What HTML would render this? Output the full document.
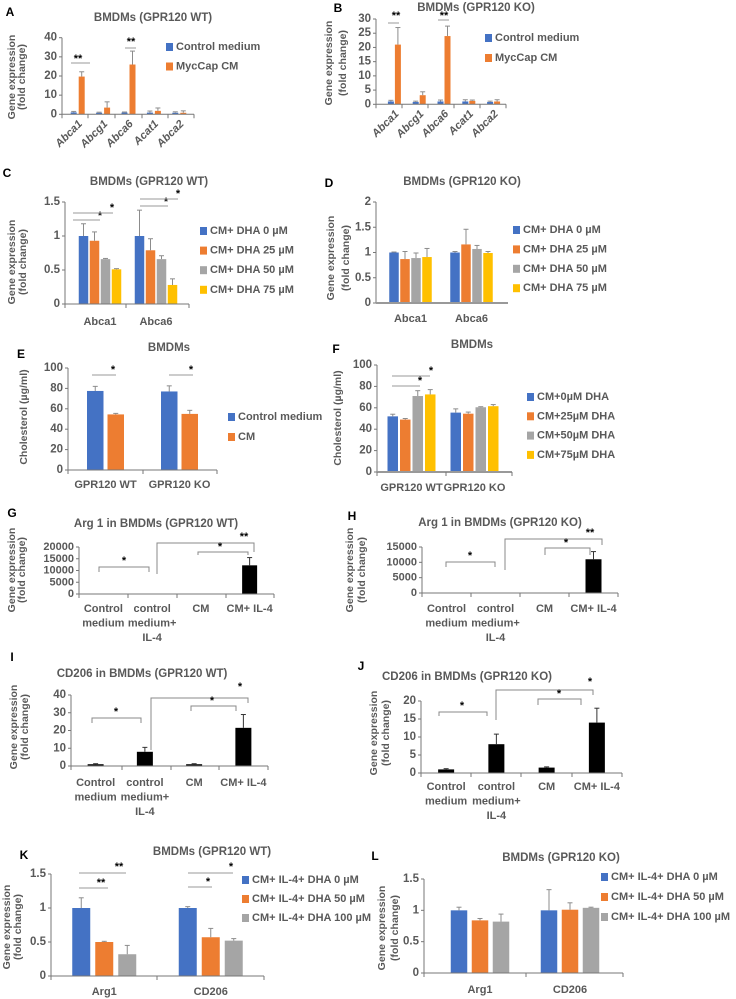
<!DOCTYPE html>
<html><head><meta charset="utf-8"><style>
html,body{margin:0;padding:0;background:#fff;}
svg{display:block;font-family:"Liberation Sans",sans-serif;}
</style></head><body>
<svg id="fig" width="736" height="999" viewBox="0 0 736 999" xmlns="http://www.w3.org/2000/svg"></svg>
<script>
// ---------- DATA ----------
const genesAB = ["Abca1","Abcg1","Abca6","Acat1","Abca2"];
const aCtrl = [1,0.8,0.9,0.9,0.8];
const aCtrlErr = [0.5,0.3,0.3,0.8,0.5];
const aMyc = [19.7,3.5,26,1.8,0.8];
const aMycErr = [2.5,3,7,1.5,1];
const bCtrl = [1,0.8,1,1,0.8];
const bCtrlErr = [0.4,0.3,0.5,0.6,0.3];
const bMyc = [21,3.2,24,1.2,1];
const bMycErr = [6,1.2,3.5,0.3,0.6];
const genesCD = ["Abca1","Abca6"];
const c0 = [1,1], c0e = [0.18,0.38];
const c25 = [0.93,0.79], c25e = [0.13,0.17];
const c50 = [0.66,0.66], c50e = [0.01,0.05];
const c75 = [0.51,0.28], c75e = [0.01,0.09];
const d0 = [1,1], d0e = [0.01,0.02];
const d25 = [0.87,1.16], d25e = [0.15,0.3];
const d50 = [0.89,1.07], d50e = [0.1,0.07];
const d75 = [0.91,0.99], d75e = [0.17,0.03];
const groupsEF = ["GPR120 WT","GPR120 KO"];
const eCtrl = [77.5,77], eCtrlErr = [4.5,5.5];
const eCM = [54.5,55], eCMErr = [1,3.5];
const f0 = [52,55.5], f0e = [2,3.5];
const f25 = [49,54.5], f25e = [1,1.5];
const f50 = [71,60.5], f50e = [5,0.5];
const f75 = [72.5,61.5], f75e = [4.5,1.5];
const catsGJ = ["Control\nmedium","control\nmedium+\nIL-4","CM","CM+  IL-4"];
const gVals = [1,150,60,12200], gErr = [0,0,0,3300];
const hVals = [1,100,50,11000], hErr = [0,0,0,2500];
const iVals = [1,8,1,21.5], iErr = [0.3,2.5,0.3,7.5];
const jVals = [1,8,1.5,14], jErr = [0.2,2.8,0.2,4];
const genesKL = ["Arg1","CD206"];
const k0 = [1,1], k0e = [0.15,0.02];
const k50 = [0.5,0.57], k50e = [0.01,0.13];
const k100 = [0.32,0.52], k100e = [0.13,0.03];
const l0 = [1,1], l0e = [0.05,0.33];
const l50 = [0.84,1.01], l50e = [0.03,0.11];
const l100 = [0.82,1.04], l100e = [0.12,0.01];
const ticksA = [0,10,20,30,40], ticksB = [0,5,10,15,20,25,30];
const ticksC = [0,0.5,1,1.5], ticksD = [0,0.5,1,1.5,2];
const ticksEF = [0,20,40,60,80,100];
const ticksG = [0,5000,10000,15000,20000], ticksH = [0,5000,10000,15000];
const ticksI = [0,10,20,30,40], ticksJ = [0,5,10,15,20], ticksKL = [0,0.5,1,1.5];

const BLUE="#4472C4", ORANGE="#ED7D31", GRAY="#A5A5A5", YEL="#FFC000", BLACK="#000";
const TXT="#595959";
const NS="http://www.w3.org/2000/svg";
const svg=document.getElementById('fig');
function el(tag,attrs,parent){const e=document.createElementNS(NS,tag);for(const k in attrs)e.setAttribute(k,attrs[k]);(parent||svg).appendChild(e);return e;}
function txt(x,y,s,o,parent){o=o||{};const e=el('text',{x:x,y:y,'font-size':o.size||10,fill:o.fill||TXT,'text-anchor':o.anchor||'middle','dominant-baseline':'central'},parent);
 if(o.weight)e.setAttribute('font-weight',o.weight); if(o.italic)e.setAttribute('font-style','italic'); if(o.rot)e.setAttribute('transform',o.rot); e.textContent=s; return e;}

function chart(o){
 const g=el('g',{});
 
 
 const yv=v=>o.y0+(o.yTop-o.y0)*v/o.ymax;
 const n=o.cats.length, gw=(o.x1-o.x0)/n;
 const ax0=o.ax0!==undefined?o.ax0:o.x0, ax1=o.ax1!==undefined?o.ax1:o.x1;
 const L=txt(o.letter[0],o.letter[1],o.letter[2],{size:12,weight:'bold',fill:'#000'},g);
 
 
 const T=txt(o.title[0],o.title[1],o.title[2],{size:11.5,weight:'bold',fill:TXT},g);
 
 
 const ya=el('line',{x1:ax0,x2:ax0,y1:yv(o.ticks[o.ticks.length-1]),y2:o.y0,stroke:'#777','stroke-width':1},g);
 
 
 o.ticks.forEach(t=>{
  el('line',{x1:ax0-3,x2:ax0,y1:yv(t),y2:yv(t),stroke:'#777'},g);
  const tl=txt(ax0-5,yv(t),String(t),{size:o.tickSize||11.5,weight:'bold',anchor:'end',fill:TXT},g);
  
  
 });
 o.ytitle.forEach((s,i)=>{
  const yt=txt(o.ytx[i],o.yty,s,{size:10.5,weight:'bold',fill:TXT,rot:`rotate(-90 ${o.ytx[i]} ${o.yty})`},g);
  
  
 });
 const ns=o.series.length, bw=o.bw, gap=o.gap, tot=ns*bw+(ns-1)*gap;
 o.series.forEach((s,si)=>{
  s.vals.forEach((v,ci)=>{
   const cx=o.x0+(ci+0.5)*gw, bx=cx-tot/2+si*(bw+gap);
   const top=yv(v);
   const r=el('rect',{x:bx,y:Math.min(top,o.y0),width:bw,height:Math.abs(o.y0-top),fill:s.color},g);
   
   
   const e=s.errs[ci];
   if(e>0){const ec=o.errColor||'#8c8c8c', mx=bx+bw/2, ye=yv(v+e);
    const eb=el('line',{x1:mx,x2:mx,y1:top,y2:ye,stroke:ec,'stroke-width':1},g);
    
    
    el('line',{x1:mx-2.5,x2:mx+2.5,y1:ye,y2:ye,stroke:ec,'stroke-width':1},g);}
  });
 });
 const xa=el('line',{x1:ax0,x2:ax1,y1:o.y0,y2:o.y0,stroke:o.xaxColor||'#777','stroke-width':o.xaxW||1},g);
 
 
 (o.xticks||[]).forEach(x=>el('line',{x1:x,x2:x,y1:o.y0,y2:o.y0+4,stroke:'#777'},g));
 o.cats.forEach((c,ci)=>{
  const cx=o.x0+(ci+0.5)*gw;
  if(o.rotate){
   const ty=o.y0+8;
   const cl=txt(cx+3,ty,c,{size:11,italic:true,weight:'bold',fill:TXT,anchor:'end',rot:`rotate(-45 ${cx+3} ${ty})`},g);
   
   
  } else {
   c.split('\n').forEach((ln,li)=>{
    const cl=txt(cx,o.catY+li*14.5,ln,{size:11,weight:'bold',fill:TXT},g);
    
    
   });
  }
 });
 (o.legend||[]).forEach((lg,i)=>{
  const ly=o.leg.y+i*o.leg.dy;
  const sw=el('rect',{x:o.leg.x,y:ly-4,width:7,height:8,fill:o.series[i].color},g);
  
  
  const lt=txt(o.leg.x+10,ly,lg,{size:11,weight:'bold',anchor:'start',fill:TXT},g);
  
  
 });
 (o.sig||[]).forEach(s=>{
  const p=el('polyline',{points:s.pts,fill:'none',stroke:o.sigColor||'#999','stroke-width':1},g);
  
  
  const st=txt(s.sx,s.sy,s.s,{size:11,fill:'#000',weight:'bold'},g);
  
  
 });
}

const exprTitle=["Gene expression","(fold change)"];
chart({name:'chart-a',letter:[10,12,'A'],title:[153,18,'BMDMs (GPR120 WT)'],x0:65,x1:192,ax0:62,ax1:194,y0:114.3,yTop:37.7,ymax:40,ticks:ticksA,
 ytitle:exprTitle,ytx:[12,22],yty:77,cats:genesAB,rotate:true,bw:6,gap:2,xticks:[62,88,115,142,168,194],
 series:[{key:'control',vals:aCtrl,errs:aCtrlErr,color:BLUE},{key:'myccap',vals:aMyc,errs:aMycErr,color:ORANGE}],
 legend:['Control medium','MycCap CM'],leg:{x:166,y:47,dy:19.5},
 sig:[{pts:'71,63 90,63',sx:78,sy:59,s:'**'},{pts:'125,48 136,48',sx:131,sy:42,s:'**'}]});
chart({name:'chart-b',letter:[338,8,'B'],title:[476,8,'BMDMs (GPR120 KO)'],x0:382,x1:506,ax0:376,ax1:506,y0:104.3,yTop:19,ymax:30,ticks:ticksB,
 ytitle:exprTitle,ytx:[329,343],yty:63,cats:genesAB,rotate:true,bw:6,gap:1,xticks:[376,402,428,454,480,506],
 series:[{key:'control',vals:bCtrl,errs:bCtrlErr,color:BLUE},{key:'myccap',vals:bMyc,errs:bMycErr,color:ORANGE}],
 legend:['Control medium','MycCap CM'],leg:{x:485,y:38,dy:20},
 sig:[{pts:'388,23 399,23',sx:396,sy:16,s:'**'},{pts:'438,20 449,20',sx:444,sy:16,s:'**'}]});
chart({name:'chart-c',letter:[7,173,'C'],title:[149,182,'BMDMs (GPR120 WT)'],x0:72,x1:184,ax0:65,ax1:189,y0:304,yTop:202,ymax:1.5,ticks:ticksC,
 ytitle:exprTitle,ytx:[12,23],yty:262,cats:genesCD,catY:322,bw:9.5,gap:1.5,xticks:[65,126,189],
 series:[{key:'dha0',vals:c0,errs:c0e,color:BLUE},{key:'dha25',vals:c25,errs:c25e,color:ORANGE},{key:'dha50',vals:c50,errs:c50e,color:GRAY},{key:'dha75',vals:c75,errs:c75e,color:YEL}],
 legend:['CM+ DHA 0 µM','CM+ DHA 25 µM','CM+ DHA 50 µM','CM+ DHA 75 µM'],leg:{x:200,y:231,dy:19.6},
 sig:[{pts:'73,220 100,220',sx:100,sy:216,s:'*'},{pts:'73,213 113,213',sx:112,sy:208,s:'*'},{pts:'140,206 168,206',sx:166,sy:202,s:'*'},{pts:'140,199 178,199',sx:178,sy:194,s:'*'}]});
chart({name:'chart-d',letter:[329,183,'D'],title:[462,182,'BMDMs (GPR120 KO)'],x0:380,x1:502,ax0:376,ax1:508,y0:303,yTop:202,ymax:2,ticks:ticksD,
 ytitle:exprTitle,ytx:[331,346],yty:258,cats:genesCD,catY:319,bw:9.5,gap:1.5,xaxColor:'#999',xaxW:2,
 series:[{key:'dha0',vals:d0,errs:d0e,color:BLUE},{key:'dha25',vals:d25,errs:d25e,color:ORANGE},{key:'dha50',vals:d50,errs:d50e,color:GRAY},{key:'dha75',vals:d75,errs:d75e,color:YEL}],
 legend:['CM+ DHA 0 µM','CM+ DHA 25 µM','CM+ DHA 50 µM','CM+ DHA 75 µM'],leg:{x:513,y:230,dy:19.4}});
chart({name:'chart-e',letter:[21,354,'E'],title:[169,348,'BMDMs'],x0:68.5,x1:216.5,ax0:68,ax1:217,y0:470,yTop:368,ymax:100,ticks:ticksEF,
 ytitle:['Cholesterol (µg/ml)'],ytx:[24],yty:417,cats:groupsEF,catY:485,bw:16.5,gap:4,xticks:[68,143,217],
 series:[{key:'control',vals:eCtrl,errs:eCtrlErr,color:BLUE},{key:'cm',vals:eCM,errs:eCMErr,color:ORANGE}],
 legend:['Control medium','CM'],leg:{x:228,y:417,dy:20},
 sig:[{pts:'92,375 116,375',sx:113,sy:370,s:'*'},{pts:'169,375 193,375',sx:191,sy:370,s:'*'}]});
chart({name:'chart-f',letter:[336,349,'F'],title:[472,345,'BMDMs'],x0:380,x1:506,ax0:377,ax1:512,y0:472,yTop:365,ymax:100,ticks:ticksEF,
 ytitle:['Cholesterol (µg/ml)'],ytx:[338],yty:418,cats:groupsEF,catY:488,bw:10.5,gap:2,xaxColor:'#999',xaxW:2,xticks:[377,446,512],
 series:[{key:'dha0',vals:f0,errs:f0e,color:BLUE},{key:'dha25',vals:f25,errs:f25e,color:ORANGE},{key:'dha50',vals:f50,errs:f50e,color:GRAY},{key:'dha75',vals:f75,errs:f75e,color:YEL}],
 legend:['CM+0µM DHA','CM+25µM DHA','CM+50µM DHA','CM+75µM DHA'],leg:{x:527,y:397,dy:19.3},
 sig:[{pts:'392,376 430,376',sx:431,sy:371,s:'*'},{pts:'392,386 420,386',sx:420,sy:381,s:'*'}]});
chart({name:'chart-g',letter:[12,513,'G'],title:[156,524,'Arg 1 in BMDMs (GPR120 WT)'],x0:79,x1:274,y0:594,yTop:547,ymax:20000,ticks:ticksG,tickSize:11,
 ytitle:exprTitle,ytx:[12,22],yty:570,cats:catsGJ,catY:609,bw:15,gap:0,xticks:[79,128,177,226,274],errColor:'#333',sigColor:'#888',
 series:[{key:'arg1',vals:gVals,errs:gErr,color:BLACK}],
 sig:[{pts:'99,572 99,567 149,567 149,572',sx:124,sy:561,s:'*'},{pts:'157,574 157,543 254,543 254,552',sx:244,sy:537,s:'**'},{pts:'198,555 198,552 248,552 248,555',sx:220,sy:547,s:'*'}]});
chart({name:'chart-h',letter:[352,516,'H'],title:[500,523,'Arg 1 in BMDMs (GPR120 KO)'],x0:422,x1:618,y0:593,yTop:547,ymax:15000,ticks:ticksH,tickSize:11,
 ytitle:exprTitle,ytx:[350,362],yty:570,cats:catsGJ,catY:609,bw:16,gap:0,xticks:[422,471,520,569,618],errColor:'#333',sigColor:'#888',
 series:[{key:'arg1',vals:hVals,errs:hErr,color:BLACK}],
 sig:[{pts:'446,567 446,562 495,562 495,567',sx:470,sy:556,s:'*'},{pts:'505,570 505,539 602,539 602,545',sx:590,sy:533,s:'**'},{pts:'545,555 545,548 590,548 590,555',sx:566,sy:543,s:'*'}]});
chart({name:'chart-i',letter:[12,657,'I'],title:[142,674,'CD206 in BMDMs (GPR120 WT)'],x0:71,x1:268,y0:766,yTop:695,ymax:40,ticks:ticksI,
 ytitle:exprTitle,ytx:[14,25],yty:727,cats:catsGJ,catY:783,bw:16,gap:0,xticks:[71,122,171,219,268],errColor:'#333',sigColor:'#888',
 series:[{key:'cd206',vals:iVals,errs:iErr,color:BLACK}],
 sig:[{pts:'92,723 92,718 141,718 141,723',sx:116,sy:712,s:'*'},{pts:'151,750 151,698 248,698 248,703',sx:240,sy:687,s:'*'},{pts:'191,711 191,706 236,706 236,711',sx:212,sy:701,s:'*'}]});
chart({name:'chart-j',letter:[361,666,'J'],title:[467,677,'CD206 in BMDMs (GPR120 KO)'],x0:421,x1:622,y0:773,yTop:701,ymax:20,ticks:ticksJ,
 ytitle:exprTitle,ytx:[374,386],yty:733,cats:catsGJ,catY:787,bw:16,gap:0,xticks:[421,471,521,572,622],errColor:'#333',sigColor:'#888',
 series:[{key:'cd206',vals:jVals,errs:jErr,color:BLACK}],
 sig:[{pts:'439,716 439,712 487,712 487,716',sx:462,sy:706,s:'*'},{pts:'496,720 496,690 593,690 593,695',sx:590,sy:682,s:'*'},{pts:'538,705 538,699 581,699 581,705',sx:559,sy:694,s:'*'}]});
chart({name:'chart-k',letter:[24,855,'K'],title:[212,852,'BMDMs (GPR120 WT)'],x0:51,x1:264,y0:976,yTop:874,ymax:1.5,ticks:ticksKL,
 ytitle:exprTitle,ytx:[7,18],yty:927,cats:genesKL,catY:992,bw:18,gap:5,xticks:[51,157,264],
 series:[{key:'dha0',vals:k0,errs:k0e,color:BLUE},{key:'dha50',vals:k50,errs:k50e,color:ORANGE},{key:'dha100',vals:k100,errs:k100e,color:GRAY}],
 legend:['CM+ IL-4+ DHA 0 µM','CM+ IL-4+ DHA 50 µM','CM+ IL-4+ DHA 100 µM'],leg:{x:242,y:880,dy:19},
 sig:[{pts:'79,888 108,888',sx:101,sy:883,s:'**'},{pts:'79,873 126,873',sx:119,sy:867,s:'**'},{pts:'188,887 212,887',sx:208,sy:882,s:'*'},{pts:'188,873 233,873',sx:231,sy:867,s:'*'}]});
chart({name:'chart-l',letter:[375,856,'L'],title:[561,858,'BMDMs (GPR120 KO)'],x0:435,x1:615,ax0:424,ax1:623,y0:973,yTop:879,ymax:1.5,ticks:ticksKL,
 ytitle:exprTitle,ytx:[382,395],yty:928,cats:genesKL,catY:990,bw:16.5,gap:4.5,xticks:[424,526,623],
 series:[{key:'dha0',vals:l0,errs:l0e,color:BLUE},{key:'dha50',vals:l50,errs:l50e,color:ORANGE},{key:'dha100',vals:l100,errs:l100e,color:GRAY}],
 legend:['CM+ IL-4+ DHA 0 µM','CM+ IL-4+ DHA 50 µM','CM+ IL-4+ DHA 100 µM'],leg:{x:601,y:877,dy:20}});
</script>
</body></html>
